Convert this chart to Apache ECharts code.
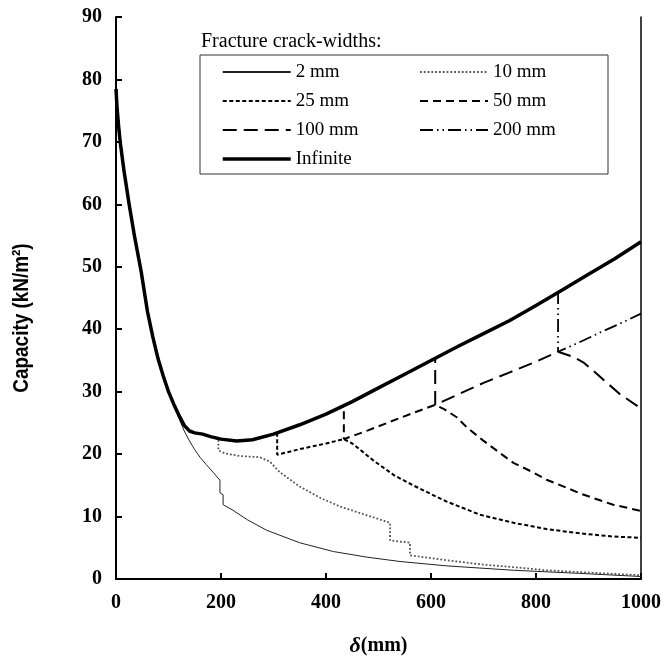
<!DOCTYPE html>
<html>
<head>
<meta charset="utf-8">
<script src="https://cdn.jsdelivr.net/npm/echarts@6/dist/echarts.min.js"></script>
<style>html,body{margin:0;padding:0;background:#fff}#c{width:672px;height:671px}</style>
</head>
<body>
<div id="c"></div>
<script>
// ---- data (delta in mm, capacity in kN/m2) ----
const xTicks = [0, 200, 400, 600, 800, 1000];
const yTicks = [0, 10, 20, 30, 40, 50, 60, 70, 80, 90];
const seriesNames = ['2 mm', '10 mm', '25 mm', '50 mm', '100 mm', '200 mm', 'Infinite'];

const infinite = [[0,78.5],[2,75.5],[5,72.5],[8,70],[15,65.5],[25,60],[35,55],[48,49.2],[60,42.8],[70,38.8],[80,35.3],[90,32.5],[100,30],[110,28],[120,26.2],[130,24.6],[140,23.7],[150,23.4],[165,23.2],[180,22.8],[200,22.4],[230,22.1],[260,22.3],[300,23.2],[350,24.7],[400,26.4],[450,28.4],[500,30.6],[550,32.8],[600,35],[650,37.2],[700,39.3],[750,41.4],[800,43.8],[850,46.3],[900,48.8],[950,51.3],[1000,54]];

const w2tail = [[120,25.7],[130,23.7],[140,22.1],[150,20.7],[160,19.5],[172,18.3],[185,17.1],[198,15.8],[198,13.8],[204,13.5],[204,11.9],[223,11],[250,9.5],[287,7.8],[350,5.8],[414,4.4],[478,3.5],[541,2.8],[630,2.1],[757,1.4],[884,0.9],[1000,0.4]];
const w10tail = [[195,22.4],[195,20.6],[208,20.1],[236,19.7],[274,19.5],[293,18.8],[312,17.1],[350,14.8],[389,13],[427,11.6],[478,10.2],[522,9],[522,6.2],[560,5.8],[560,3.8],[630,3],[700,2.3],[757,1.9],[820,1.4],[884,1.1],[1000,0.6]];
const w25tail = [[307,23.3],[307,19.9],[350,20.8],[400,21.7],[434,22.4],[450,21.7],[465,20.7],[490,19],[510,17.8],[530,16.6],[566,15],[600,13.6],[630,12.4],[693,10.3],[757,9.0],[820,8.0],[884,7.3],[947,6.8],[1000,6.6]];
const w50tail = [[434,27.7],[434,22.4],[480,23.8],[541,25.8],[608,27.9],[625,27.2],[649,25.9],[668,24.3],[699,22.2],[731,20.2],[757,18.6],[794,17.1],[820,15.9],[859,14.6],[884,13.7],[922,12.6],[947,11.9],[1000,10.9]];
const w100tail = [[608,35.4],[608,27.9],[650,29.5],[700,31.4],[750,33.1],[800,34.8],[842,36.4],[870,35.6],[890,34.7],[910,33.3],[930,31.8],[960,29.6],[1000,27.3]];
const w200tail = [[842,45.9],[842,36.4],[880,37.8],[920,39.4],[960,40.9],[1000,42.5]];

// each finite crack-width curve follows the infinite curve up to its branch
const branchUpTo = [110, 180, 300, 400, 600, 800];
const tails = [w2tail, w10tail, w25tail, w50tail, w100tail, w200tail];

const styles = [
  {width: 1, type: 'solid', color: '#222'},
  {width: 1.8, type: [1.8, 2], color: '#555'},
  {width: 2, type: [4, 2.5], color: '#000'},
  {width: 2, type: [8, 5], color: '#000'},
  {width: 2, type: [14, 7], color: '#000'},
  {width: 1.8, type: [13, 4, 1.5, 4, 1.5, 4], color: '#000'},
  {width: 3.5, type: 'solid', color: '#000'}
];

const series = [];
for (let i = 0; i < 6; i++) {
  const data = infinite.filter(p => p[0] <= branchUpTo[i]).concat(tails[i]);
  series.push({name: seriesNames[i], type: 'line', data: data, symbol: 'none', z: 2 + i,
    lineStyle: styles[i], itemStyle: {color: styles[i].color}, animation: false});
}
series.push({name: 'Infinite', type: 'line', data: infinite, symbol: 'none', z: 10,
  lineStyle: Object.assign({join: 'round'}, styles[6]), itemStyle: {color: '#000'}, animation: false});

const serif = 'Liberation Serif, Times New Roman, serif';
const legendText = {fontFamily: serif, fontSize: 19, color: '#000', lineHeight: 20};
const legendCommon = {orient: 'vertical', top: 62, itemWidth: 68, itemHeight: 14, itemGap: 9,
  textStyle: legendText, padding: 0, itemStyle: {opacity: 0}};

const chart = echarts.init(document.getElementById('c'), null, {renderer: 'canvas'});
chart.setOption({
  animation: false,
  grid: {left: 116, right: 31, top: 17, bottom: 92},
  xAxis: {
    type: 'value', min: 0, max: 1000, interval: 200,
    name: '{i|δ}{b|(mm)}', nameLocation: 'middle', nameGap: 56,
    nameTextStyle: {rich: {
      i: {fontFamily: serif, fontStyle: 'italic', fontWeight: 'bold', fontSize: 22, color: '#000'},
      b: {fontFamily: serif, fontWeight: 'bold', fontSize: 20, color: '#000'}}},
    axisLine: {lineStyle: {color: '#000', width: 2}},
    axisTick: {inside: true, length: 6, lineStyle: {color: '#000', width: 2}},
    axisLabel: {fontFamily: serif, fontWeight: 'bold', fontSize: 20, color: '#000', margin: 14,
      formatter: v => String(v)},
    splitLine: {show: false}
  },
  yAxis: [{
    type: 'value', min: 0, max: 90, interval: 10,
    axisLine: {show: true, lineStyle: {color: '#000', width: 2}},
    axisTick: {inside: true, length: 6, lineStyle: {color: '#000', width: 2}},
    axisLabel: {fontFamily: serif, fontWeight: 'bold', fontSize: 20, color: '#000', margin: 14},
    splitLine: {show: false}
  }, {
    type: 'value', min: 0, max: 90, interval: 10, position: 'right',
    axisLine: {show: true, lineStyle: {color: '#000', width: 1.5}},
    axisTick: {show: false}, axisLabel: {show: false}, splitLine: {show: false}
  }],
  title: {text: 'Fracture crack-widths:', left: 196, top: 27,
    textStyle: {fontFamily: serif, fontWeight: 'normal', fontSize: 20, color: '#000'}},
  legend: [
    Object.assign({data: ['2 mm', '25 mm', '100 mm',
      {name: 'Infinite', lineStyle: {width: 3.5}}], left: 221}, legendCommon),
    Object.assign({data: ['10 mm', '50 mm', '200 mm'], left: 419}, legendCommon)
  ],
  graphic: [
    {type: 'rect', shape: {x: 200, y: 55, width: 408, height: 119},
      style: {fill: 'none', stroke: '#333', lineWidth: 1}, z: 100},
    {type: 'text', x: 22, y: 318, rotation: Math.PI / 2, scaleX: 0.86,
      style: {text: 'Capacity (kN/m²)', font: 'bold 22px Liberation Sans, Arial, sans-serif',
        fill: '#000', align: 'center', verticalAlign: 'middle'}, z: 100}
  ],
  series: series
});
</script>
</body>
</html>
